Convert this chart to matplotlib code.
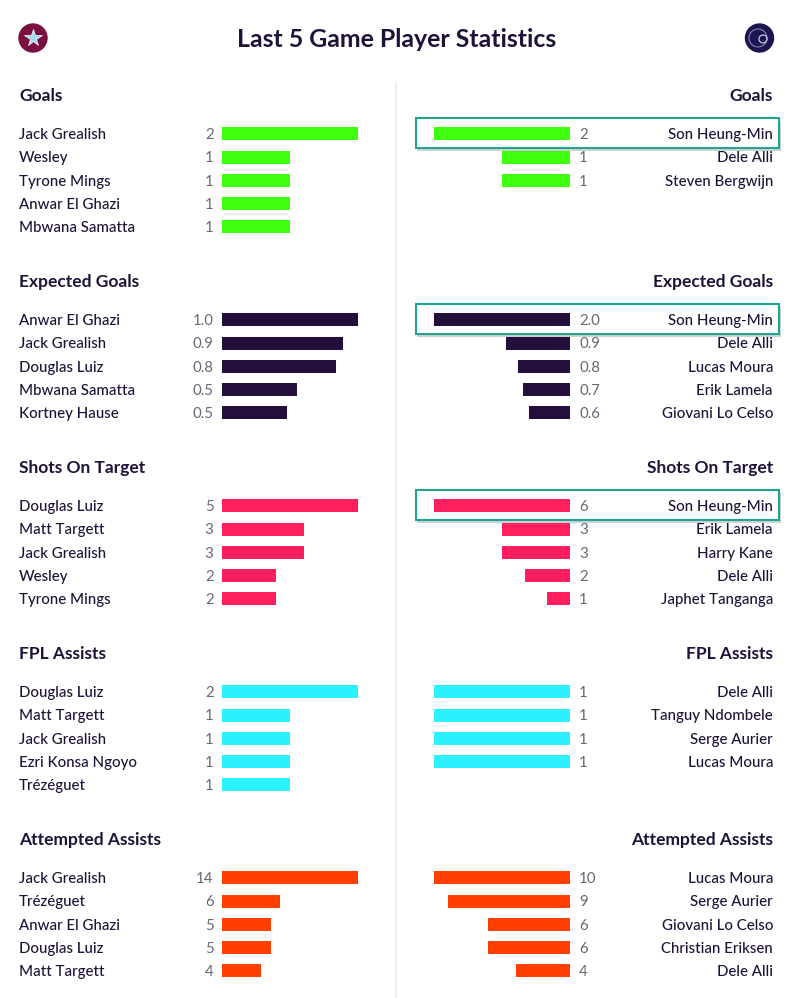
import matplotlib
matplotlib.use('Agg')
from matplotlib import pyplot as plt
from matplotlib.patches import Rectangle, Circle

plt.rcParams['font.family'] = ['Lato', 'DejaVu Sans']

W, H = 800, 998
INK = '#1f1238'
GREY = '#6b6675'

titles = ['Goals', 'Expected Goals', 'Shots On Target', 'FPL Assists', 'Attempted Assists']
colors = ['#3fff0f', '#240f3c', '#ff1f5f', '#2af0ff', '#ff3f00']

# left column (Aston Villa)
goals_l_names = ['Jack Grealish', 'Wesley', 'Tyrone Mings', 'Anwar El Ghazi', 'Mbwana Samatta']
goals_l = [2, 1, 1, 1, 1]
goals_l_text = ['2', '1', '1', '1', '1']
xg_l_names = ['Anwar El Ghazi', 'Jack Grealish', 'Douglas Luiz', 'Mbwana Samatta', 'Kortney Hause']
xg_l = [1.0, 0.89, 0.84, 0.55, 0.48]
xg_l_text = ['1.0', '0.9', '0.8', '0.5', '0.5']
sot_l_names = ['Douglas Luiz', 'Matt Targett', 'Jack Grealish', 'Wesley', 'Tyrone Mings']
sot_l = [5, 3, 3, 2, 2]
sot_l_text = ['5', '3', '3', '2', '2']
fpl_l_names = ['Douglas Luiz', 'Matt Targett', 'Jack Grealish', 'Ezri Konsa Ngoyo', 'Trézéguet']
fpl_l = [2, 1, 1, 1, 1]
fpl_l_text = ['2', '1', '1', '1', '1']
att_l_names = ['Jack Grealish', 'Trézéguet', 'Anwar El Ghazi', 'Douglas Luiz', 'Matt Targett']
att_l = [14, 6, 5, 5, 4]
att_l_text = ['14', '6', '5', '5', '4']

# right column (Spurs)
goals_r_names = ['Son Heung-Min', 'Dele Alli', 'Steven Bergwijn']
goals_r = [2, 1, 1]
goals_r_text = ['2', '1', '1']
xg_r_names = ['Son Heung-Min', 'Dele Alli', 'Lucas Moura', 'Erik Lamela', 'Giovani Lo Celso']
xg_r = [2.0, 0.94, 0.76, 0.69, 0.6]
xg_r_text = ['2.0', '0.9', '0.8', '0.7', '0.6']
sot_r_names = ['Son Heung-Min', 'Erik Lamela', 'Harry Kane', 'Dele Alli', 'Japhet Tanganga']
sot_r = [6, 3, 3, 2, 1]
sot_r_text = ['6', '3', '3', '2', '1']
fpl_r_names = ['Dele Alli', 'Tanguy Ndombele', 'Serge Aurier', 'Lucas Moura']
fpl_r = [1, 1, 1, 1]
fpl_r_text = ['1', '1', '1', '1']
att_r_names = ['Lucas Moura', 'Serge Aurier', 'Giovani Lo Celso', 'Christian Eriksen', 'Dele Alli']
att_r = [10, 9, 6, 6, 4]
att_r_text = ['10', '9', '6', '6', '4']

left = [(goals_l_names, goals_l, goals_l_text), (xg_l_names, xg_l, xg_l_text), (sot_l_names, sot_l, sot_l_text),
        (fpl_l_names, fpl_l, fpl_l_text), (att_l_names, att_l, att_l_text)]
right = [(goals_r_names, goals_r, goals_r_text), (xg_r_names, xg_r, xg_r_text), (sot_r_names, sot_r, sot_r_text),
         (fpl_r_names, fpl_r, fpl_r_text), (att_r_names, att_r, att_r_text)]

fig = plt.figure(figsize=(W / 100, H / 100), dpi=100, facecolor='white')

# full figure axes in pixels, for text, badges and the frames
bg = fig.add_axes([0, 0, 1, 1])
bg.set_xlim(0, W)
bg.set_ylim(H, 0)
bg.axis('off')

ROW = 23.25
STEP = 186
FIRST = 133.8
NAME_SIZE = 10.8
HEAD_SIZE = 12.5
TEXT_DROP = 1.3  # text sits a bit lower than the bar centre


def bar_axes(x0, x1, y_mid0):
    # five rows tall, centred on the rows
    top = y_mid0 - ROW / 2
    ax = fig.add_axes([x0 / W, 1 - (top + 5 * ROW) / H, (x1 - x0) / W, 5 * ROW / H])
    ax.set_ylim(4.5, -0.5)
    ax.axis('off')
    ax.patch.set_alpha(0)
    return ax


bg.text(396.5, 39, 'Last 5 Game Player Statistics', ha='center', va='center',
        fontsize=17.9, fontweight='bold', color=INK)

# badges
bg.add_patch(Circle((33, 38), 14, color='#7a1040'))
bg.plot([33], [38], marker='*', ms=13, color='#a5dcf2', mec='white', mew=0.5)
bg.add_patch(Circle((759.5, 38), 14, color='#1b1550'))
bg.add_patch(Circle((758, 38), 9, fill=False, ec='#8f93bd', lw=0.7))
bg.add_patch(Circle((763, 39), 4, fill=False, ec='#d5d8e8', lw=0.8))

# centre divider
bg.plot([396, 396], [83, H], color='#eeeeee', lw=1.5, solid_capstyle='butt')

for s in range(5):
    y0 = FIRST + STEP * s
    bg.text(19, y0 - 37.5, titles[s], ha='left', va='center', fontsize=HEAD_SIZE, fontweight='bold', color=INK)
    bg.text(773, y0 - 37.5, titles[s], ha='right', va='center', fontsize=HEAD_SIZE, fontweight='bold', color=INK)

    # top scorer frame, only the first three blocks have it
    if s < 3:
        bg.add_patch(Rectangle((416.5, y0 - 13), 364, 30, fc='#000000', ec='none', alpha=0.18, zorder=1))
        bg.add_patch(Rectangle((415.5, y0 - 16), 363.5, 30, fc='white', ec='#1fa590', lw=1.5, zorder=2))

    names, vals, text = left[s]
    ax = bar_axes(222, 358, y0)
    ax.barh(range(len(vals)), vals, height=0.56, color=colors[s])
    ax.set_xlim(0, max(vals))
    for i in range(len(vals)):
        y = y0 + ROW * i + TEXT_DROP
        bg.text(19, y, names[i], ha='left', va='center', fontsize=NAME_SIZE, fontweight='medium', color=INK, zorder=3)
        bg.text(213.5, y, text[i], ha='right', va='center', fontsize=NAME_SIZE, color=GREY, zorder=3)

    names, vals, text = right[s]
    ax = bar_axes(434, 570, y0)
    ax.barh(range(len(vals)), vals, height=0.56, color=colors[s])
    ax.set_xlim(max(vals), 0)
    for i in range(len(vals)):
        y = y0 + ROW * i + TEXT_DROP
        bg.text(773, y, names[i], ha='right', va='center', fontsize=NAME_SIZE, fontweight='medium', color=INK, zorder=3)
        bg.text(579, y, text[i], ha='left', va='center', fontsize=NAME_SIZE, color=GREY, zorder=3)

fig.savefig('out.png', dpi=100, facecolor='white')
